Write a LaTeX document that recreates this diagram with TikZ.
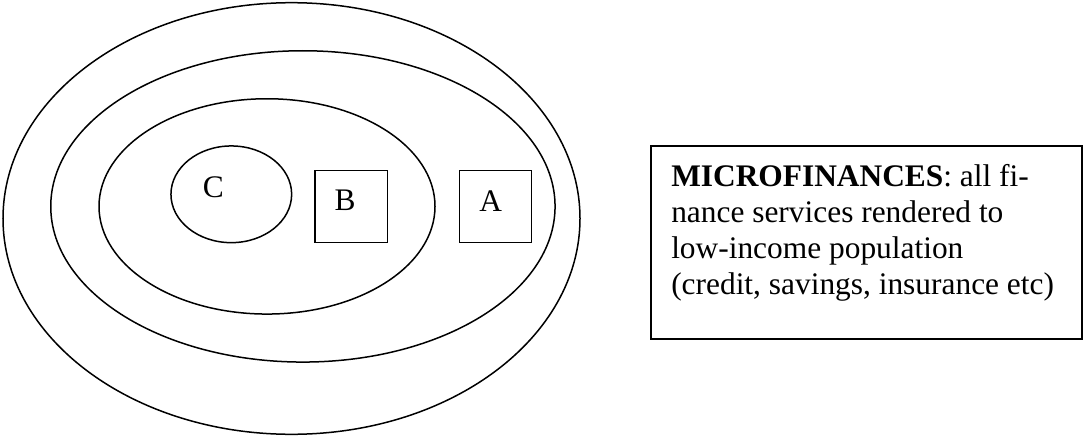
\documentclass[tikz,border=0pt]{standalone}
\usepackage{fontspec}
\setmainfont{Liberation Serif}
\usetikzlibrary{shapes.geometric}
\begin{document}
\begin{tikzpicture}[x=1pt, y=-1pt, line width=1.5pt,
  ring/.style={draw, ellipse, inner sep=0pt, outer sep=0pt},
  square/.style={draw, rectangle, inner sep=0pt, outer sep=0pt,
                 minimum width=72.3pt, minimum height=72pt},
  letter/.style={font=\fontsize{31.4}{36}\selectfont, inner sep=0pt},
  note/.style={font=\fontsize{31.4}{36}\selectfont, inner sep=0pt, align=left}]
\useasboundingbox (0,0) rectangle (1083,436);

% nested sets
\node[ring, minimum width=577pt,   minimum height=431.6pt] (outer) at (291.5,218.5) {};
\node[ring, minimum width=504.3pt, minimum height=311.3pt] (middle) at (302.9,206.4) {};
\node[ring, minimum width=336pt,   minimum height=215.3pt] (inner) at (267,206.4) {};
\node[ring, minimum width=120.7pt, minimum height=96.7pt]  (setC) at (231.3,194.3) {};

\node[square] (boxB) at (351.2,206.7) {};
\node[square] (boxA) at (495.5,206.7) {};

\node[letter] (labC) at (213.3,187.3) {C};
\node[letter] (labB) at (345,200.7) {B};
\node[letter] (labA) at (490.7,200.7) {A};

% definition box
\node[draw, rectangle, inner sep=0pt, outer sep=0pt,
      minimum width=431.3pt, minimum height=193pt] (defbox) at (866.4,242.5) {};
\node[note, anchor=north west] (deftext) at (670.5,163.6)
  {\textbf{MICROFINANCES}: all fi-\\
   nance services rendered to\\
   low-income population\\
   (credit, savings, insurance etc)};
\end{tikzpicture}
\end{document}
